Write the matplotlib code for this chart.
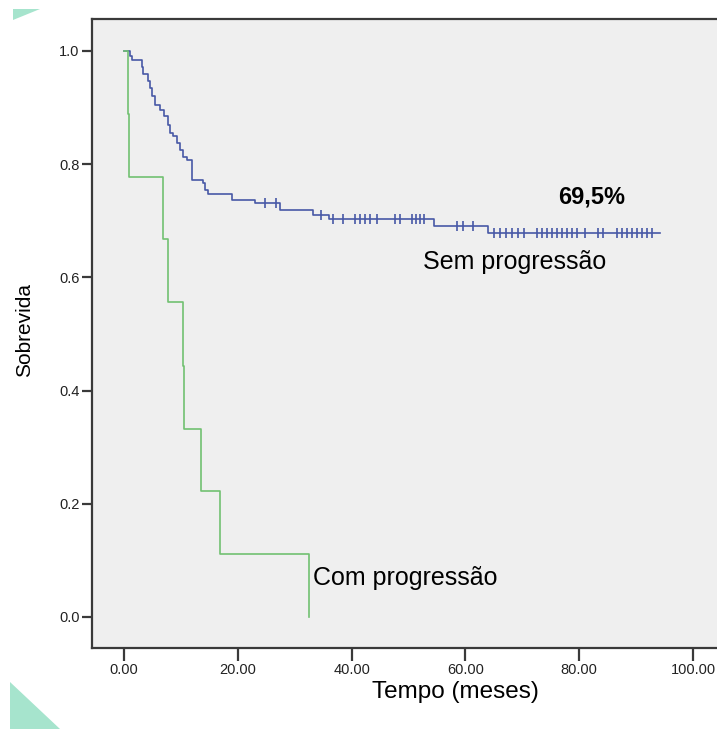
import numpy as np
import matplotlib
matplotlib.use("Agg")
import matplotlib.pyplot as plt
from matplotlib.patches import Polygon

plt.rcParams['font.family'] = ['Liberation Sans', 'DejaVu Sans']

# Sem progressão (blue) - event times and survival after each drop
blue_times = [0, 1.05, 1.35, 3.1, 3.4, 4.3, 4.6, 4.9, 5.4, 6.4, 7.1, 7.8, 8.1, 8.7,
              9.3, 9.8, 10.4, 11.0, 11.9, 13.9, 14.2, 14.8, 18.9, 23.1, 27.4,
              33.2, 36.1, 54.4, 64.0]
blue_surv = [1.0, 0.992, 0.984, 0.972, 0.959, 0.947, 0.934, 0.921, 0.905, 0.896,
             0.885, 0.870, 0.855, 0.849, 0.837, 0.825, 0.813, 0.807, 0.772, 0.766,
             0.754, 0.747, 0.737, 0.731, 0.719, 0.711, 0.703, 0.690, 0.679]
blue_end = 94.2
blue_censored = [24.8, 26.8, 34.7, 36.8, 38.5, 40.6, 41.5, 42.4, 43.2, 44.4, 47.6,
                 48.5, 50.6, 51.3, 52.0, 52.7, 58.5, 59.6, 61.4,
                 65.0, 66.1, 67.1, 68.2, 69.2, 70.3,
                 72.6, 73.5, 74.3, 75.2, 76.1, 77.0, 77.9, 78.7, 79.6, 81.0,
                 83.3, 84.2,
                 86.6, 87.5, 88.4, 89.3, 90.2, 91.0, 91.9, 92.8]

# Com progressão (green)
green_times = [0, 0.7, 0.9, 6.9, 7.8, 10.4, 10.6, 13.5, 16.8, 32.5]
green_surv = [1.0, 0.889, 0.778, 0.667, 0.556, 0.444, 0.333, 0.222, 0.111, 0.0]

x_ticks = [0, 20, 40, 60, 80, 100]
x_labels = ["0.00", "20.00", "40.00", "60.00", "80.00", "100.00"]
y_ticks = [0.0, 0.2, 0.4, 0.6, 0.8, 1.0]
y_labels = ["0.0", "0.2", "0.4", "0.6", "0.8", "1.0"]

blue = "#4858a6"
green = "#72c172"

fig = plt.figure(figsize=(7.17, 7.29), dpi=100)
W, H = 717, 729
ax = fig.add_axes([92 / W, (H - 648) / H, (722 - 92) / W, (648 - 19) / H])
ax.set_facecolor("#efefef")

# blue curve
bt = blue_times + [blue_end]
bs = blue_surv + [blue_surv[-1]]
ax.step(bt, bs, where="post", color=blue, lw=1.2)
idx = np.searchsorted(blue_times, blue_censored, side="right") - 1
cens_y = np.array(blue_surv)[idx]
ax.plot(blue_censored, cens_y, ls="none", marker="|", ms=7, mew=1.2, color=blue)

# green curve
ax.step(green_times, green_surv, where="post", color=green, lw=1.2)

ax.set_xlim(-5.62, 105.1)
ax.set_ylim(-0.0548, 1.0565)
ax.set_xticks(x_ticks)
ax.set_xticklabels(x_labels)
ax.set_yticks(y_ticks)
ax.set_yticklabels(y_labels)

for s in ax.spines.values():
    s.set_color("#3a3a3a")
    s.set_linewidth(1.6)
ax.tick_params(axis="x", length=9, width=1.6, color="#3a3a3a", pad=2, labelsize=10.5, labelcolor="#222222")
ax.tick_params(axis="y", length=7, width=1.6, color="#3a3a3a", pad=2, labelsize=10.5, labelcolor="#222222")

ax.text(82.2, 0.742, "69,5%", fontsize=17, fontweight="bold", ha="center", va="center")
ax.text(68.7, 0.627, "Sem progressão", fontsize=18, ha="center", va="center")
ax.text(33.2, 0.069, "Com progressão", fontsize=18, ha="left", va="center")

fig.text(455 / W, 1 - 692 / H, "Tempo (meses)", fontsize=17.5, ha="center", va="center")
fig.text(25 / W, 1 - 330 / H, "Sobrevida", fontsize=15, rotation=90, ha="center", va="center")

# decorative corner triangles
mint = "#a6e4cd"
tri1 = Polygon([(13 / W, 1 - 9 / H), (40 / W, 1 - 9 / H), (13 / W, 1 - 20 / H)],
               closed=True, transform=fig.transFigure, color=mint, lw=0)
tri2 = Polygon([(10 / W, 1 - 682 / H), (60 / W, 0), (10 / W, 0)],
               closed=True, transform=fig.transFigure, color=mint, lw=0)
fig.add_artist(tri1)
fig.add_artist(tri2)

fig.savefig("out.png", dpi=100)
